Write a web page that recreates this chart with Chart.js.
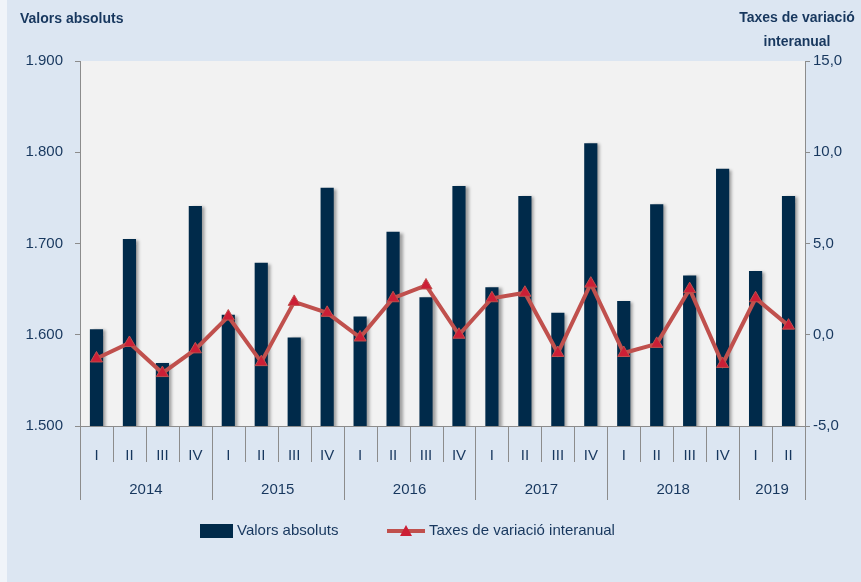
<!DOCTYPE html>
<html>
<head>
<meta charset="utf-8">
<script src="https://cdn.jsdelivr.net/npm/chart.js@4/dist/chart.umd.min.js"></script>
<style>
  html, body { margin: 0; padding: 0; background: #dce6f2; }
  #wrap { width: 861px; height: 582px; position: relative; }
</style>
</head>
<body>
<div id="wrap"><canvas id="chart"></canvas></div>
<script>
const quarters = ['I', 'II', 'III', 'IV', 'I', 'II', 'III', 'IV', 'I', 'II', 'III', 'IV',
                  'I', 'II', 'III', 'IV', 'I', 'II', 'III', 'IV', 'I', 'II'];
const years = ['2014', '2015', '2016', '2017', '2018', '2019'];
const quartersPerYear = [4, 4, 4, 4, 4, 2];

const valorsAbsoluts = [1606, 1705, 1569, 1741, 1622, 1679, 1597, 1761, 1620, 1713, 1641, 1763,
                        1652, 1752, 1624, 1810, 1637, 1743, 1665, 1782, 1670, 1752];
const taxesVariacio = [-1.3, -0.45, -2.1, -0.8, 1.0, -1.5, 1.8, 1.2, -0.15, 2.0, 2.7, 0.0,
                       2.0, 2.3, -1.0, 2.8, -1.0, -0.5, 2.5, -1.6, 2.0, 0.5];

const leftTicks = [1500, 1600, 1700, 1800, 1900];
const rightTicks = [-5, 0, 5, 10, 15];

const textColor = '#17375e';
const axisColor = '#8c8c8c';
const fontFamily = '"Liberation Sans", Arial, sans-serif';

// fons general i fons de l'àrea del gràfic
const backgroundPlugin = {
    id: 'background',
    beforeDraw(chart) {
        const { ctx, chartArea } = chart;
        ctx.save();
        ctx.fillStyle = '#dce6f2';
        ctx.fillRect(0, 0, chart.width, chart.height);
        ctx.fillStyle = '#f0f4f9';
        ctx.fillRect(0, 0, 7, chart.height);
        ctx.fillStyle = '#f2f2f2';
        ctx.fillRect(chartArea.left, chartArea.top, chartArea.right - chartArea.left, chartArea.bottom - chartArea.top);
        ctx.restore();
    }
};

// ombra de les barres
const shadowPlugin = {
    id: 'barShadow',
    beforeDatasetDraw(chart, args) {
        if (args.index !== 0) return;
        const ctx = chart.ctx;
        ctx.save();
        ctx.shadowColor = 'rgba(0, 0, 0, 0.35)';
        ctx.shadowOffsetX = 3;
        ctx.shadowOffsetY = 1;
        ctx.shadowBlur = 3;
    },
    afterDatasetDraw(chart, args) {
        if (args.index !== 0) return;
        chart.ctx.restore();
    }
};

// títols, separadors i anys de l'eix, llegenda
const extrasPlugin = {
    id: 'extras',
    afterDraw(chart) {
        const { ctx } = chart;
        const xs = chart.scales.x;
        const bottom = chart.chartArea.bottom;
        ctx.save();

        ctx.fillStyle = textColor;
        ctx.font = 'bold 14px ' + fontFamily;
        ctx.textBaseline = 'middle';
        ctx.textAlign = 'left';
        ctx.fillText('Valors absoluts', 20, 19);
        ctx.textAlign = 'center';
        ctx.fillText('Taxes de variació', 797, 18);
        ctx.fillText('interanual', 797, 42);

        const boundary = (i) => {
            if (i === 0) return xs.left;
            if (i === quarters.length) return xs.right;
            return (xs.getPixelForValue(i - 1) + xs.getPixelForValue(i)) / 2;
        };

        ctx.strokeStyle = axisColor;
        ctx.lineWidth = 1;
        const yearStarts = [0];
        quartersPerYear.forEach((n, k) => yearStarts.push(yearStarts[k] + n));
        for (let i = 0; i <= quarters.length; i++) {
            const x = Math.round(boundary(i)) + 0.5;
            const long = yearStarts.includes(i);
            ctx.beginPath();
            ctx.moveTo(x, bottom);
            ctx.lineTo(x, bottom + (long ? 74 : 36));
            ctx.stroke();
        }

        ctx.font = '15px ' + fontFamily;
        ctx.fillStyle = textColor;
        ctx.textAlign = 'center';
        years.forEach((y, k) => {
            const x = (boundary(yearStarts[k]) + boundary(yearStarts[k + 1])) / 2;
            ctx.fillText(y, x, bottom + 64);
        });

        // llegenda
        const ly = 531;
        const ds = chart.data.datasets;
        ctx.fillStyle = ds[0].backgroundColor;
        ctx.fillRect(200, ly - 7, 33, 14);
        ctx.fillStyle = textColor;
        ctx.textAlign = 'left';
        ctx.fillText(ds[0].label, 237, ly);

        ctx.strokeStyle = ds[1].borderColor;
        ctx.lineWidth = 4;
        ctx.beginPath();
        ctx.moveTo(387, ly);
        ctx.lineTo(425, ly);
        ctx.stroke();
        ctx.fillStyle = ds[1].pointBackgroundColor;
        ctx.beginPath();
        ctx.moveTo(406, ly - 6);
        ctx.lineTo(412, ly + 5);
        ctx.lineTo(400, ly + 5);
        ctx.closePath();
        ctx.fill();
        ctx.fillStyle = textColor;
        ctx.fillText(ds[1].label, 429, ly);

        ctx.restore();
    }
};

new Chart(document.getElementById('chart'), {
    type: 'bar',
    data: {
        labels: quarters,
        datasets: [{
            type: 'bar',
            label: 'Valors absoluts',
            data: valorsAbsoluts,
            backgroundColor: '#002a4a',
            borderWidth: 0,
            categoryPercentage: 1,
            barPercentage: 0.4,
            yAxisID: 'y',
            order: 2
        }, {
            type: 'line',
            label: 'Taxes de variació interanual',
            data: taxesVariacio,
            borderColor: '#c0504d',
            borderWidth: 4,
            pointStyle: 'triangle',
            pointRadius: 7,
            pointBackgroundColor: '#cc1f36',
            pointBorderColor: '#c0504d',
            pointBorderWidth: 1,
            tension: 0,
            yAxisID: 'y1',
            order: 1
        }]
    },
    options: {
        responsive: true,
        maintainAspectRatio: false,
        animation: false,
        devicePixelRatio: 1,
        layout: { padding: { top: 61, left: 0, right: 0, bottom: 0 } },
        plugins: {
            legend: { display: false },
            tooltip: { enabled: false }
        },
        scales: {
            x: {
                offset: true,
                grid: { display: false },
                border: { display: true, color: axisColor, width: 1 },
                ticks: {
                    color: textColor,
                    font: { family: fontFamily, size: 15 },
                    padding: 13,
                    maxRotation: 0,
                    autoSkip: false
                },
                afterFit(scale) { scale.height = 156; }
            },
            y: {
                position: 'left',
                min: 1500,
                max: 1900,
                afterBuildTicks(scale) { scale.ticks = leftTicks.map(v => ({ value: v })); },
                grid: { drawOnChartArea: false, tickLength: 5, color: axisColor },
                border: { display: true, color: axisColor },
                ticks: {
                    color: textColor,
                    font: { family: fontFamily, size: 15 },
                    padding: 12,
                    callback: v => Math.floor(v / 1000) + '.' + String(v % 1000).padStart(3, '0')
                },
                afterFit(scale) { scale.width = 80; }
            },
            y1: {
                position: 'right',
                min: -5,
                max: 15,
                afterBuildTicks(scale) { scale.ticks = rightTicks.map(v => ({ value: v })); },
                grid: { drawOnChartArea: false, tickLength: 5, color: axisColor },
                border: { display: true, color: axisColor },
                ticks: {
                    color: textColor,
                    font: { family: fontFamily, size: 15 },
                    padding: 3,
                    callback: v => v.toFixed(1).replace('.', ',')
                },
                afterFit(scale) { scale.width = 56; }
            }
        }
    },
    plugins: [backgroundPlugin, shadowPlugin, extrasPlugin]
});
</script>
</body>
</html>
